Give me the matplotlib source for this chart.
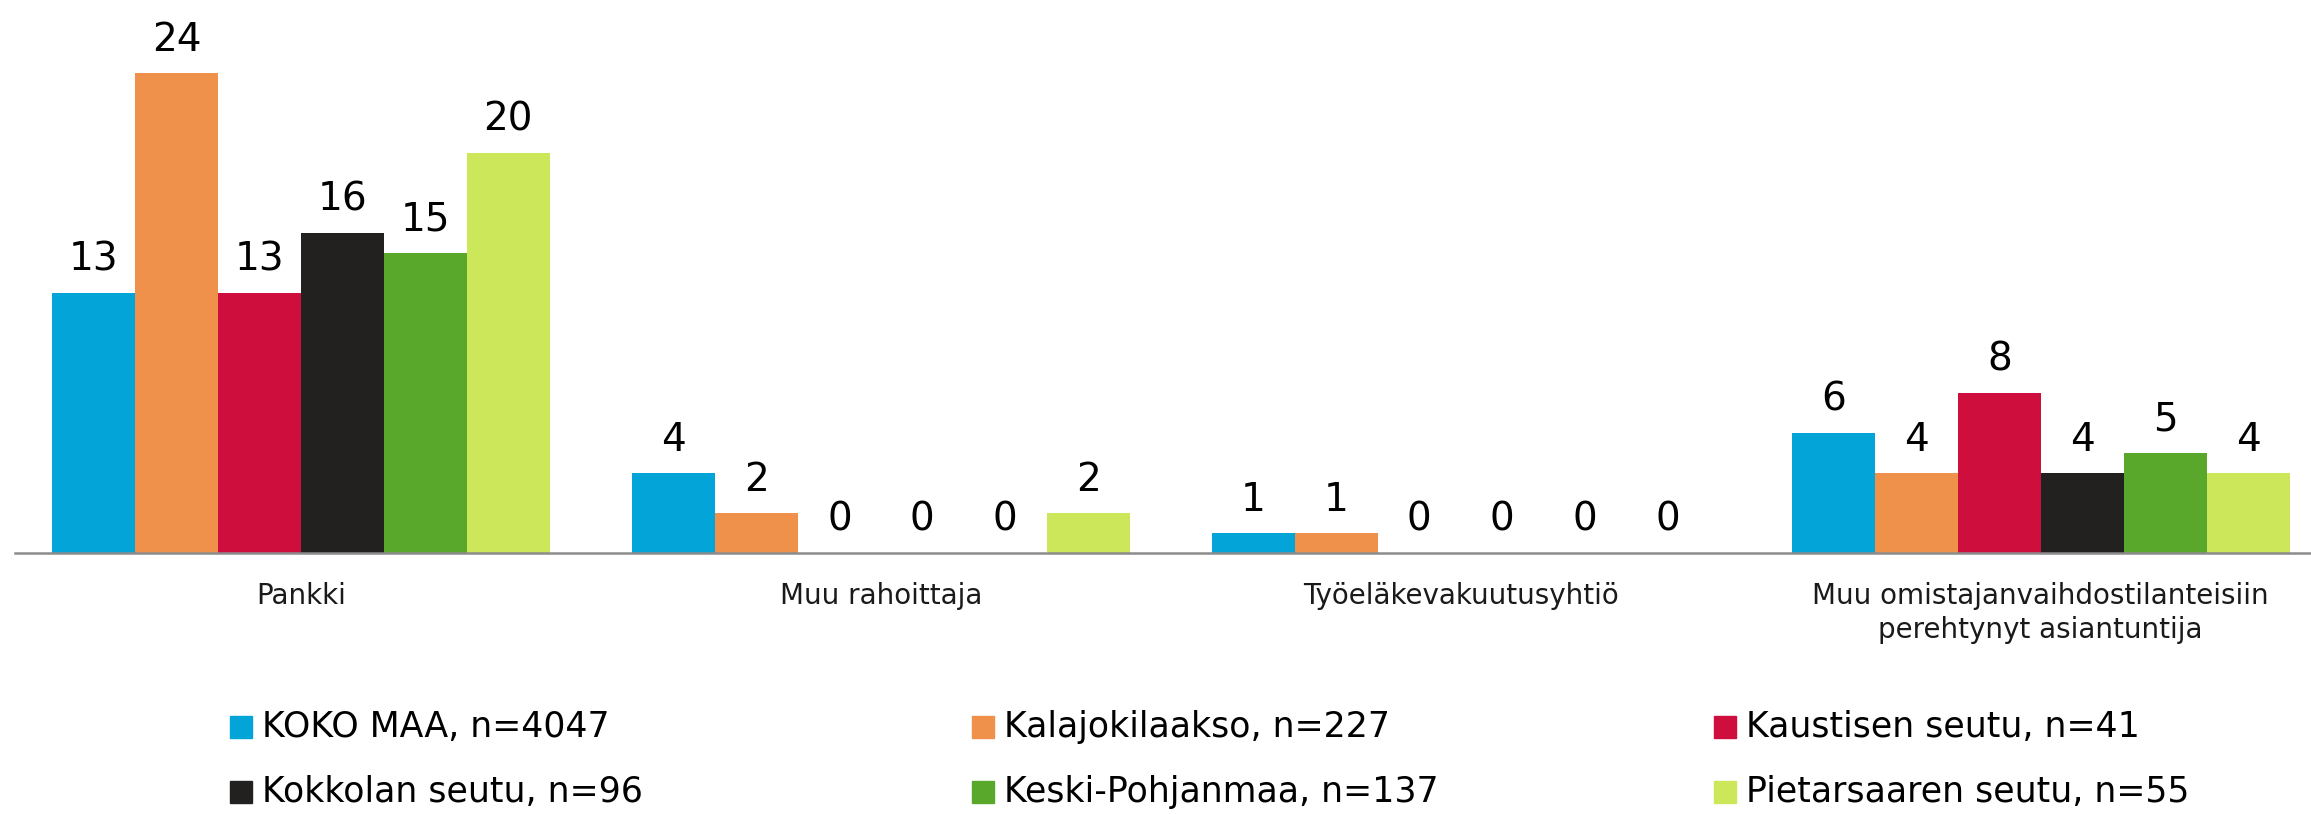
import numpy as np
import matplotlib
matplotlib.use("Agg")
from matplotlib import pyplot as plt
from matplotlib.patches import Rectangle

categories = ["Pankki", "Muu rahoittaja", "Työeläkevakuutusyhtiö",
              "Muu omistajanvaihdostilanteisiin\nperehtynyt asiantuntija"]
series = ["KOKO MAA, n=4047", "Kalajokilaakso, n=227", "Kaustisen seutu, n=41",
          "Kokkolan seutu, n=96", "Keski-Pohjanmaa, n=137", "Pietarsaaren seutu, n=55"]
koko_maa = [13, 4, 1, 6]
kalajokilaakso = [24, 2, 1, 4]
kaustinen = [13, 0, 0, 8]
kokkola = [16, 0, 0, 4]
keski_pohjanmaa = [15, 0, 0, 5]
pietarsaari = [20, 2, 0, 4]

values = [koko_maa, kalajokilaakso, kaustinen, kokkola, keski_pohjanmaa, pietarsaari]
colors = ["#03A5D9", "#EF914B", "#CE0F3E", "#222120", "#59A82C", "#CCE85A"]

plt.rcParams['font.family'] = ['DejaVu Sans']

W, H = 2311, 814
fig = plt.figure(figsize=(W / 100, H / 100), dpi=100)
ax = fig.add_axes([15 / W, 1 - 553 / H, 1 - 15 / W, 553 / H])

x = np.arange(len(categories))
bw = 0.143
for i, (vals, c) in enumerate(zip(values, colors)):
    pos = x + (i - 2.5) * bw
    ax.bar(pos, vals, width=bw, color=c, edgecolor="none", zorder=2)
    for px, v in zip(pos, vals):
        ax.annotate(str(v), (px, v), xytext=(0, 16), textcoords="offset points",
                    ha="center", va="baseline", fontsize=28, color="black")

ax.set_xlim(-0.493, 3.466)
ax.set_ylim(0, 27.65)
ax.set_yticks([])
ax.set_xticks(x)
ax.set_xticklabels(categories, fontsize=20, color="#1a1a1a", linespacing=1.25)
ax.tick_params(axis="x", length=0, pad=21)
for s in ["top", "right", "left"]:
    ax.spines[s].set_visible(False)
ax.spines["bottom"].set_color("#8c8c8c")
ax.spines["bottom"].set_linewidth(1.8)

# legend drawn by hand: 3 columns, 2 rows
col_x = [230, 972, 1714]
row_y = [727, 792]
sq = 22
for i, (name, c) in enumerate(zip(series, colors)):
    cx = col_x[i % 3]
    cy = row_y[i // 3]
    fig.patches.append(Rectangle((cx / W, 1 - (cy + sq / 2) / H), sq / W, sq / H,
                                 transform=fig.transFigure, color=c))
    fig.text((cx + sq + 10) / W, 1 - cy / H, name, fontsize=25, va="center",
             ha="left", color="black")

fig.savefig("out.png", dpi=100)
